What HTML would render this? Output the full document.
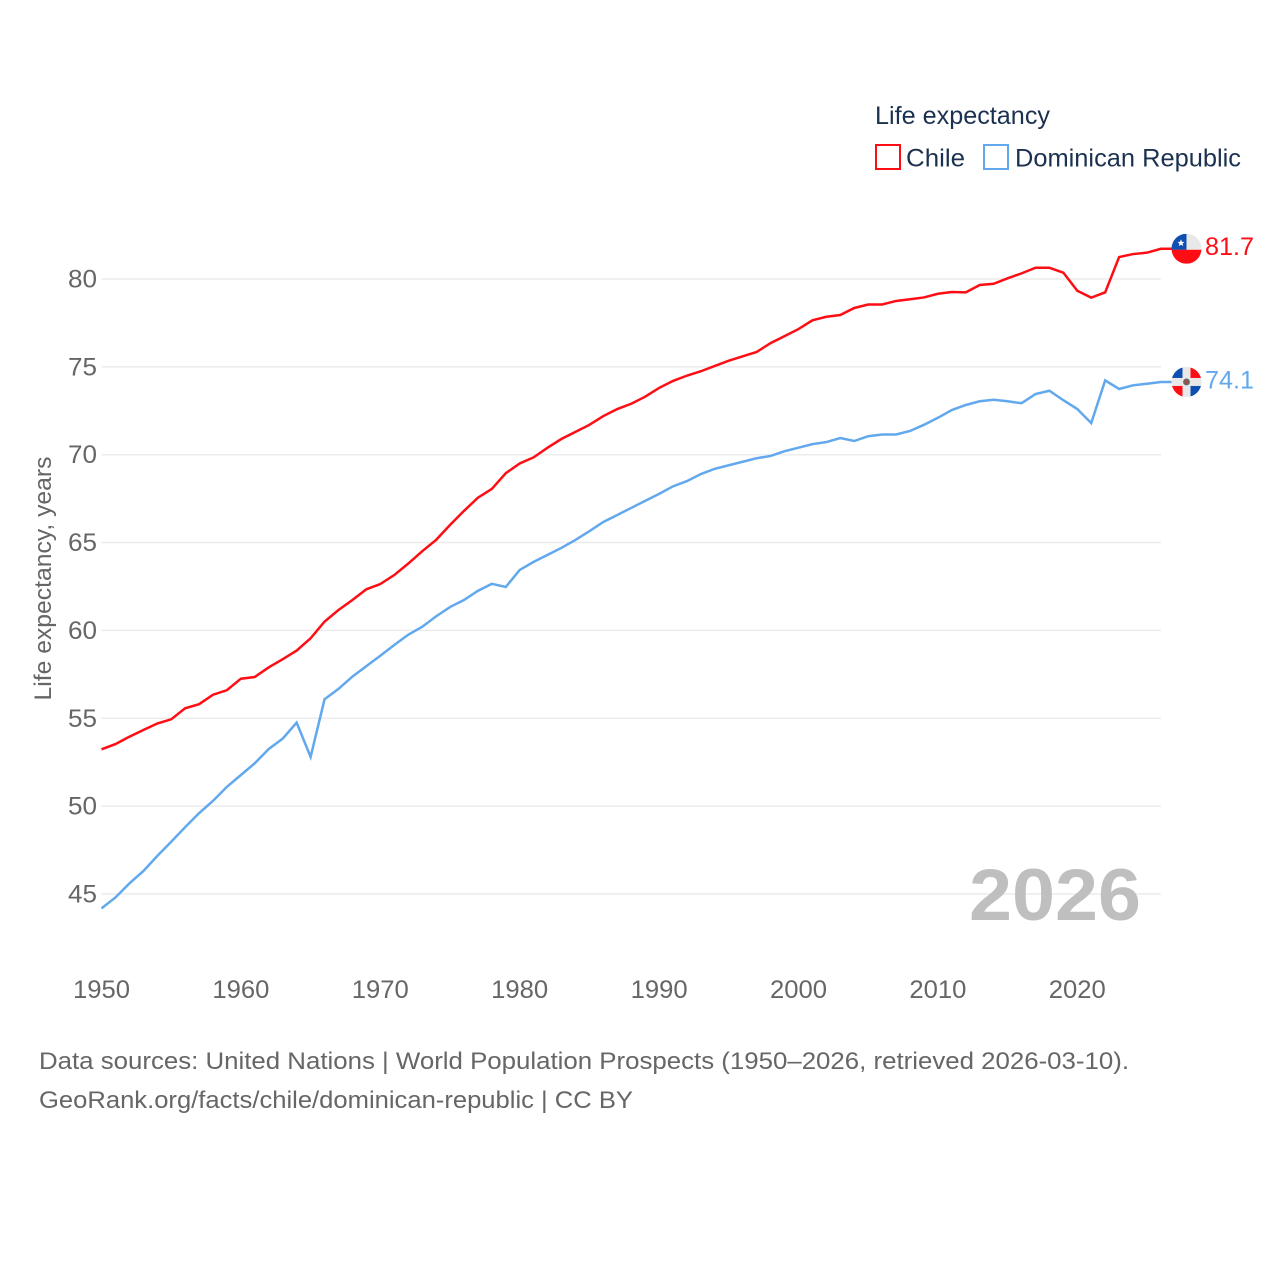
<!DOCTYPE html>
<html lang="en">
<head>
<meta charset="utf-8">
<title>Life expectancy: Chile and Dominican Republic</title>
<style>
html,body{margin:0;padding:0;background:#fff;width:1280px;height:1280px;overflow:hidden}
svg{display:block;font-family:"Liberation Sans",sans-serif}
</style>
</head>
<body>
<svg id="chart" width="1280" height="1280" viewBox="0 0 1280 1280" xmlns="http://www.w3.org/2000/svg">
  <defs>
    <clipPath id="flag-clip"><circle cx="0" cy="0" r="15"/></clipPath>
  </defs>
  <rect width="1280" height="1280" fill="#fff"/>
  <g id="grid"></g>
  <g id="y-ticks"></g>
  <g id="x-ticks"></g>
  <text transform="translate(51,700.5) rotate(-90)" font-size="24" fill="#666" textLength="244" lengthAdjust="spacingAndGlyphs">Life expectancy, years</text>

  <g>
    <text x="875" y="124" font-size="25" fill="#1b3150" textLength="175" lengthAdjust="spacingAndGlyphs">Life expectancy</text>
    <g>
      <rect x="876" y="145" width="24" height="24" fill="#fff" stroke="#fe0e14" stroke-width="2"/>
      <text x="906" y="166.5" font-size="25" fill="#1b3150" textLength="59" lengthAdjust="spacingAndGlyphs">Chile</text>
    </g>
    <g>
      <rect x="984" y="145" width="24" height="24" fill="#fff" stroke="#62a8ec" stroke-width="2"/>
      <text x="1015" y="166.5" font-size="25" fill="#1b3150" textLength="226" lengthAdjust="spacingAndGlyphs">Dominican Republic</text>
    </g>
  </g>

  <text x="969" y="920" font-size="73" font-weight="700" fill="#bfbfbf" textLength="172" lengthAdjust="spacingAndGlyphs">2026</text>

  <g id="series"></g>

  <g id="flag-chile">
    <g clip-path="url(#flag-clip)">
      <rect x="-15" y="-15" width="30" height="16" fill="#e8e8e8"/>
      <rect x="-15" y="-15" width="15" height="16" fill="#0f4fb0"/>
      <rect x="-15" y="1" width="30" height="14" fill="#fe0e14"/>
      <polygon points="-5.5,-9.5 -4.5,-6.9 -1.9,-6.9 -4,-5.2 -3.2,-2.6 -5.5,-4.1 -7.8,-2.6 -7,-5.2 -9.1,-6.9 -6.5,-6.9" fill="#fff"/>
    </g>
  </g>
  <g id="flag-dr">
    <g clip-path="url(#flag-clip)">
      <rect x="-15" y="-15" width="30" height="30" fill="#e8e8e8"/>
      <rect x="-15" y="-15" width="11" height="11" fill="#0f4fb0"/>
      <rect x="4" y="-15" width="11" height="11" fill="#fe0e14"/>
      <rect x="-15" y="4" width="11" height="11" fill="#fe0e14"/>
      <rect x="4" y="4" width="11" height="11" fill="#0f4fb0"/>
      <circle cx="0" cy="0" r="3.4" fill="#5c6a70"/>
      <circle cx="0" cy="0" r="1.8" fill="#c8402c"/>
    </g>
  </g>
  <g id="end-labels"></g>

  <g>
    <text x="39" y="1069" font-size="24" fill="#666" textLength="1090" lengthAdjust="spacingAndGlyphs">Data sources: United Nations | World Population Prospects (1950–2026, retrieved 2026-03-10).</text>
    <text x="39" y="1108" font-size="24" fill="#666" textLength="594" lengthAdjust="spacingAndGlyphs">GeoRank.org/facts/chile/dominican-republic | CC BY</text>
  </g>
</svg>
<script>
const startYear = 1950;
const yTickValues = [45, 50, 55, 60, 65, 70, 75, 80];
const xTickValues = [1950, 1960, 1970, 1980, 1990, 2000, 2010, 2020];
const chileValues = [
  53.23, 53.53, 53.95, 54.33, 54.7, 54.94, 55.57, 55.8, 56.34, 56.6,
  57.25, 57.35, 57.9, 58.36, 58.85, 59.55, 60.5, 61.16, 61.73, 62.34,
  62.64, 63.15, 63.8, 64.5, 65.15, 66.0, 66.8, 67.55, 68.05, 68.95,
  69.5, 69.85, 70.4, 70.9, 71.3, 71.7, 72.2, 72.6, 72.9, 73.3,
  73.8, 74.2, 74.5, 74.75, 75.05, 75.35, 75.6, 75.85, 76.35, 76.75,
  77.15, 77.65, 77.85, 77.95, 78.35, 78.55, 78.55, 78.75, 78.85, 78.95,
  79.16, 79.26, 79.24, 79.66, 79.73, 80.04, 80.32, 80.64, 80.64, 80.36,
  79.33, 78.94, 79.24, 81.25, 81.42, 81.5, 81.72
];
const dominicanValues = [
  44.18, 44.8, 45.6, 46.3, 47.16, 47.97, 48.8, 49.6, 50.3, 51.1,
  51.77, 52.44, 53.25, 53.84, 54.75, 52.8, 56.08, 56.67, 57.37, 57.97,
  58.56, 59.17, 59.75, 60.2, 60.8, 61.33, 61.73, 62.25, 62.65, 62.47,
  63.44, 63.9, 64.3, 64.7, 65.15, 65.65, 66.17, 66.57, 66.97, 67.37,
  67.77, 68.2, 68.5, 68.9, 69.2, 69.4, 69.6, 69.8, 69.93, 70.2,
  70.4, 70.6, 70.72, 70.95, 70.78, 71.05, 71.15, 71.15, 71.35, 71.7,
  72.1, 72.54, 72.83, 73.04, 73.13, 73.04, 72.93, 73.45, 73.64, 73.1,
  72.6, 71.8, 74.23, 73.74, 73.95, 74.04, 74.14
];

const NS = 'http://www.w3.org/2000/svg';
const xOf = function (year) { return 101.5 + (year - 1950) * 13.94; };
const yOf = function (value) { return 279 + (80 - value) * 17.57; };
const plotRight = xOf(2026);
const flagX = 1186.5;

const gridGroup = document.getElementById('grid');
const yGroup = document.getElementById('y-ticks');
yTickValues.forEach(function (v) {
  const line = document.createElementNS(NS, 'line');
  
  
  line.setAttribute('x1', xOf(1950));
  line.setAttribute('x2', plotRight);
  line.setAttribute('y1', yOf(v));
  line.setAttribute('y2', yOf(v));
  line.setAttribute('stroke', '#ececec');
  line.setAttribute('stroke-width', '1.5');
  gridGroup.appendChild(line);

  const label = document.createElementNS(NS, 'text');
  
  
  label.setAttribute('x', 97);
  label.setAttribute('y', yOf(v) + 8.5);
  label.setAttribute('text-anchor', 'end');
  label.setAttribute('font-size', '25');
  label.setAttribute('fill', '#666');
  label.setAttribute('textLength', '29');
  label.setAttribute('lengthAdjust', 'spacingAndGlyphs');
  label.textContent = v;
  yGroup.appendChild(label);
});

const xGroup = document.getElementById('x-ticks');
xTickValues.forEach(function (yr) {
  const label = document.createElementNS(NS, 'text');
  
  
  label.setAttribute('x', xOf(yr));
  label.setAttribute('y', 998);
  label.setAttribute('text-anchor', 'middle');
  label.setAttribute('font-size', '25');
  label.setAttribute('fill', '#666');
  label.setAttribute('textLength', '57');
  label.setAttribute('lengthAdjust', 'spacingAndGlyphs');
  label.textContent = yr;
  xGroup.appendChild(label);
});

const seriesGroup = document.getElementById('series');
function buildPoints(values) {
  const pts = values.map(function (v, i) {
    return xOf(startYear + i).toFixed(2) + ',' + yOf(v).toFixed(2);
  });
  pts.push(flagX + ',' + yOf(values[values.length - 1]).toFixed(2));
  return pts.join(' ');
}

const blueLine = document.createElementNS(NS, 'polyline');


blueLine.setAttribute('points', buildPoints(dominicanValues));
blueLine.setAttribute('fill', 'none');
blueLine.setAttribute('stroke', '#62a8ec');
blueLine.setAttribute('stroke-width', '2.5');
seriesGroup.appendChild(blueLine);

const redLine = document.createElementNS(NS, 'polyline');


redLine.setAttribute('points', buildPoints(chileValues));
redLine.setAttribute('fill', 'none');
redLine.setAttribute('stroke', '#fe0e14');
redLine.setAttribute('stroke-width', '2.5');
seriesGroup.appendChild(redLine);

const chileLast = chileValues[chileValues.length - 1];
const domLast = dominicanValues[dominicanValues.length - 1];
document.getElementById('flag-chile').setAttribute('transform', 'translate(' + flagX + ',' + yOf(chileLast) + ')');
document.getElementById('flag-dr').setAttribute('transform', 'translate(' + flagX + ',' + yOf(domLast) + ')');

const endGroup = document.getElementById('end-labels');

const chileEnd = document.createElementNS(NS, 'text');


chileEnd.setAttribute('x', 1205);
chileEnd.setAttribute('y', yOf(chileLast) + 6);
chileEnd.setAttribute('font-size', '25');
chileEnd.setAttribute('fill', '#fe0e14');
chileEnd.setAttribute('textLength', '49');
chileEnd.setAttribute('lengthAdjust', 'spacingAndGlyphs');
chileEnd.textContent = chileLast.toFixed(1);
endGroup.appendChild(chileEnd);

const domEnd = document.createElementNS(NS, 'text');


domEnd.setAttribute('x', 1205);
domEnd.setAttribute('y', yOf(domLast) + 6.5);
domEnd.setAttribute('font-size', '25');
domEnd.setAttribute('fill', '#62a8ec');
domEnd.setAttribute('textLength', '49');
domEnd.setAttribute('lengthAdjust', 'spacingAndGlyphs');
domEnd.textContent = domLast.toFixed(1);
endGroup.appendChild(domEnd);
</script>
</body>
</html>
